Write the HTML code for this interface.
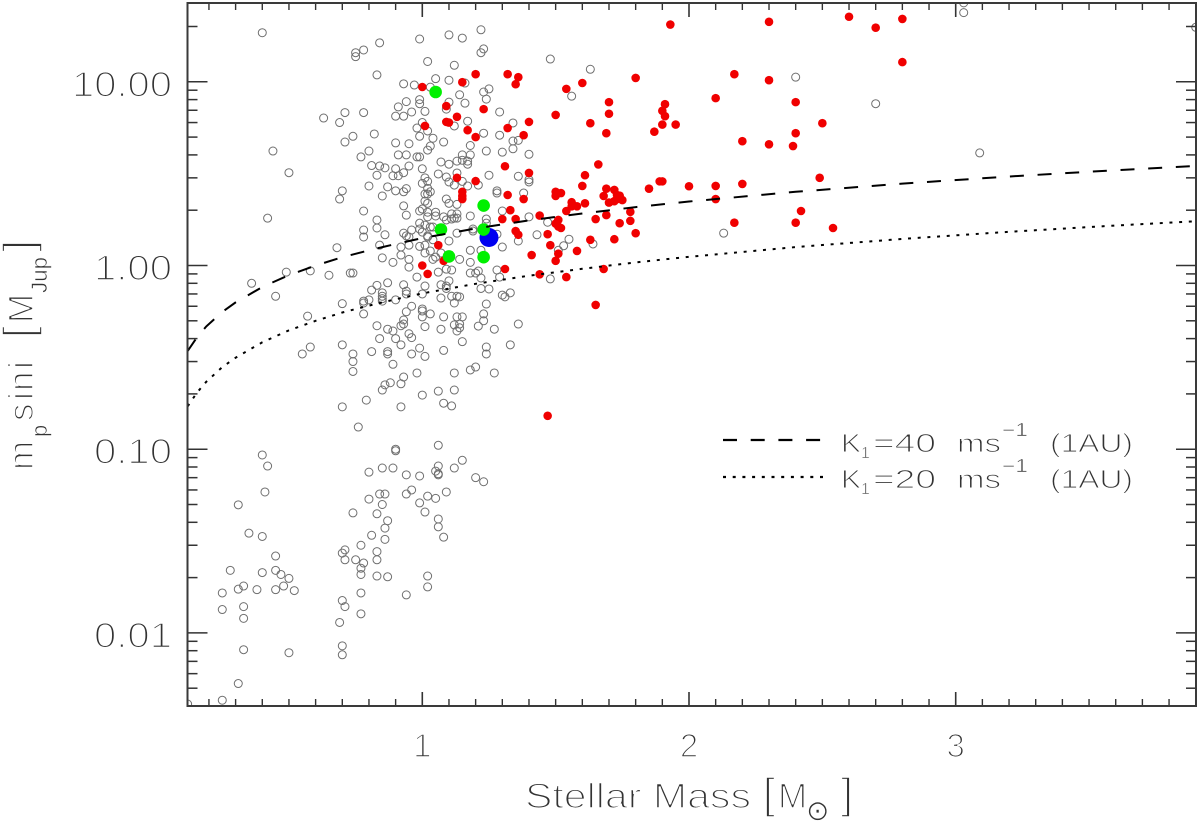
<!DOCTYPE html>
<html lang="en">
<head>
<meta charset="utf-8">
<title>Stellar mass vs minimum planet mass</title>
<style>
html,body{margin:0;padding:0;background:#fff}
svg{display:block}
text{font-family:"Liberation Sans","DejaVu Sans",sans-serif;fill:#333;stroke:#fff}
.big{font-size:35px;stroke-width:1.6px}
.mid{font-size:26px;stroke-width:1.05px}
.small{font-size:18px;stroke-width:.6px}
</style>
</head>
<body>
<svg id="chart" xmlns="http://www.w3.org/2000/svg" width="1200" height="821" viewBox="0 0 1200 821">
  <defs><clipPath id="plot-clip"><rect x="187.5" y="3" width="1008.5" height="703"/></clipPath></defs>
  <g id="marks" clip-path="url(#plot-clip)"></g>
  <g id="ticks"></g>
  <rect x="187.5" y="3" width="1008.5" height="703" fill="none" stroke="#3a3a3a" stroke-width="2"/>
  <g id="labels"></g>

  <g>
    <text class="big" x="525" y="808" textLength="226" lengthAdjust="spacingAndGlyphs">Stellar Mass</text>
    <text class="big" x="763" y="808" style="font-size:43px">[</text>
    <text class="big" x="778" y="808">M</text>
    <text class="small" x="806" y="820" style="font-size:28px;font-family:'DejaVu Sans',sans-serif">⊙</text>
    <text class="big" x="841" y="808" style="font-size:43px">]</text>
  </g>

  <g transform="translate(33,0) rotate(-90)">
    <text class="big" x="-470" y="0">m</text>
    <text class="small" x="-437" y="14" style="font-size:22px">p</text>
    <text class="big" x="-421" y="0">s</text>
    <text class="big" x="-400" y="0">i</text>
    <text class="big" x="-391" y="0">n</text>
    <text class="big" x="-369" y="0">i</text>
    <text class="big" x="-338" y="0" style="font-size:43px">[</text>
    <text class="big" x="-323" y="0">M</text>
    <text class="small" x="-293" y="14" style="font-size:22px" textLength="36" lengthAdjust="spacingAndGlyphs">Jup</text>
    <text class="big" x="-252" y="0" style="font-size:43px">]</text>
  </g>

  <g>
    <g>
      <line x1="723" y1="440" x2="821" y2="440" stroke="#000" stroke-width="2.2" stroke-dasharray="14 13.7"/>
      <text class="mid" x="841" y="452" textLength="20" lengthAdjust="spacingAndGlyphs">K</text>
      <text class="small" x="861" y="458" style="font-size:16px">1</text>
      <text class="mid" x="873" y="452" textLength="63" lengthAdjust="spacingAndGlyphs">=40</text>
      <text class="mid" x="957" y="452" textLength="44" lengthAdjust="spacingAndGlyphs">ms</text>
      <text class="small" x="1002" y="436" textLength="26" lengthAdjust="spacingAndGlyphs">−1</text>
      <text class="mid" x="1050" y="452" textLength="83" lengthAdjust="spacingAndGlyphs">(1AU)</text>
    </g>
    <g>
      <line x1="723" y1="477" x2="823" y2="477" stroke="#000" stroke-width="2.2" stroke-dasharray="3 6.7"/>
      <text class="mid" x="841" y="488" textLength="20" lengthAdjust="spacingAndGlyphs">K</text>
      <text class="small" x="861" y="494" style="font-size:16px">1</text>
      <text class="mid" x="873" y="488" textLength="63" lengthAdjust="spacingAndGlyphs">=20</text>
      <text class="mid" x="957" y="488" textLength="44" lengthAdjust="spacingAndGlyphs">ms</text>
      <text class="small" x="1002" y="472" textLength="26" lengthAdjust="spacingAndGlyphs">−1</text>
      <text class="mid" x="1050" y="488" textLength="83" lengthAdjust="spacingAndGlyphs">(1AU)</text>
    </g>
  </g>
</svg>
<script>
// ---- Axis labels ----
const xTickValues = [1, 2, 3];
const xTickLabels = ["1", "2", "3"];
const yTickValues = [0.01, 0.1, 1, 10];
const yTickLabels = ["0.01", "0.10", "1.00", "10.00"];

// ---- Detection-limit curves: stellar mass, and m sin i for each K1 ----
const curveMass = [0.12,0.155,0.19,0.25,0.3,0.4,0.5,0.6,0.7,0.8,0.9,1,1.2,1.4,1.6,1.8,2,2.4,2.8,3.2,3.6,3.9];
const curveK40 = [0.342,0.406,0.466,0.559,0.63,0.764,0.887,1.0,1.11,1.21,1.31,1.41,1.59,1.76,1.92,2.08,2.23,2.52,2.79,3.05,3.30,3.48];
const curveK20 = [0.171,0.203,0.233,0.28,0.315,0.382,0.444,0.5,0.555,0.605,0.655,0.705,0.795,0.88,0.96,1.04,1.115,1.26,1.395,1.525,1.65,1.74];

// ---- Points as [stellar mass, m sin i] ----
const blueStar = [[1.25,1.42]];
const greenStars = [[1.05,8.8],[1.23,2.12],[1.07,1.57],[1.23,1.57],[1.10,1.12],[1.23,1.11]];
const redStars = [
[1.00,9.37],[1.01,5.75],[1.09,7.38],[1.15,9.95],[1.20,11.0],[1.32,11.0],[1.36,10.6],[1.35,9.7],[1.54,9.15],[1.60,9.85],
[1.80,10.5],[1.70,7.75],[1.70,6.7],[1.50,6.6],[1.63,5.95],[1.69,5.25],[1.23,7.1],[1.13,6.45],[1.09,6.05],[1.10,6.0],
[1.17,5.45],[1.20,5.0],[1.32,5.6],[1.40,6.05],[1.38,5.12],[1.31,3.47],[1.40,3.19],[1.66,3.55],[1.61,3.1],[1.13,3.0],
[1.20,2.88],[1.60,2.71],[1.15,2.52],[1.15,2.39],[1.15,2.3],[1.32,2.42],[1.38,2.3],[1.50,2.52],[1.52,2.48],[1.50,2.39],
[1.69,2.62],[1.72,2.58],[1.68,2.39],[1.73,2.42],[1.75,2.27],[1.73,2.3],[1.70,2.2],[1.72,2.24],[1.85,2.62],[1.61,2.18],
[1.56,2.21],[1.58,2.1],[1.56,2.1],[1.54,1.98],[1.33,2.0],[1.30,1.79],[1.35,1.79],[1.44,1.87],[1.51,1.77],[1.50,1.69],
[1.51,1.63],[1.52,1.6],[1.65,1.79],[1.69,1.88],[1.78,1.96],[1.78,1.75],[1.74,1.7],[1.80,1.5],[1.72,1.39],[1.63,1.38],
[1.35,1.54],[1.36,1.47],[1.47,1.48],[1.48,1.29],[1.06,1.29],[1.58,1.2],[1.51,1.16],[1.50,1.06],[1.41,1.14],[1.08,1.06],
[1.00,1.0],[1.02,0.9],[1.31,0.957],[1.44,0.895],[1.54,0.865],[1.68,0.957],[1.65,0.61],[1.47,0.152],
[1.93,20.5],[2.30,21.2],[2.60,22.6],[2.70,19.7],[2.80,22.0],[2.80,12.8],[2.17,11.0],[2.30,10.2],[2.10,8.15],[2.40,7.75],
[1.91,7.55],[1.90,6.95],[1.91,6.5],[1.90,5.85],[1.95,5.85],[1.87,5.35],[2.50,5.95],[2.40,5.25],[2.20,4.75],[2.30,4.57],
[2.39,4.47],[2.49,3.0],[1.89,2.87],[1.90,2.87],[2.00,2.7],[2.10,2.71],[2.20,2.78],[2.10,2.3],[1.74,2.4],[2.17,1.71],
[2.40,1.71],[2.42,1.98],[2.54,1.6]
];
const greyStars = [
[0.40,18.5],[0.99,17.1],[0.84,16.3],[0.78,14.9],[0.75,14.4],[0.75,13.7],[1.02,12.9],[0.83,10.9],[0.93,9.75],[0.97,9.6],
[0.99,8.0],[0.99,7.6],[1.01,6.9],[0.94,7.8],[0.91,7.3],[0.96,6.85],[0.90,6.5],[0.93,6.5],[0.78,6.8],[0.71,6.8],
[0.63,6.35],[0.69,6.0],[1.00,6.0],[0.98,5.6],[0.99,5.05],[0.82,5.2],[0.74,5.05],[0.71,4.7],[0.90,4.65],[0.95,4.6],
[1.02,4.25],[0.44,4.2],[0.80,4.2],[0.77,3.9],[0.91,4.0],[0.94,4.0],[0.98,3.9],[0.99,3.9],[0.81,3.5],[0.84,3.48],
[0.86,3.4],[0.90,3.36],[0.95,3.48],[1.00,3.36],[0.50,3.2],[0.83,3.1],[0.89,3.08],[0.91,3.08],[0.93,3.2],[1.01,3.0],
[1.00,2.8],[1.02,2.63],[0.80,2.71],[0.87,2.68],[0.90,2.55],[0.93,2.52],[0.94,2.62],[0.70,2.55],[0.69,2.3],[0.85,2.39],
[1.01,2.45],[1.01,2.24],[0.93,2.11],[0.78,1.98],[0.99,1.98],[0.94,1.88],[1.00,2.03],[1.02,1.84],[0.42,1.81],[0.83,1.77],
[0.83,1.6],[0.78,1.56],[0.78,1.43],[0.86,1.47],[0.99,1.7],[0.99,1.58],[0.96,1.56],[0.93,1.5],[0.95,1.43],[0.68,1.25],
[0.84,1.29],[0.92,1.26],[0.95,1.29],[0.99,1.27],[1.02,1.43],[1.01,1.29],[0.92,1.14],[0.85,1.1],[0.95,1.08],[1.01,1.17],
[1.10,18.0],[1.15,17.3],[1.22,19.2],[1.23,15.1],[1.22,14.4],[1.12,12.3],[1.48,13.3],[1.63,11.7],[1.05,10.4],[1.10,10.2],
[1.03,9.35],[1.16,9.85],[1.25,9.15],[1.23,8.8],[1.14,8.5],[1.24,8.05],[1.10,7.75],[1.16,7.65],[1.56,8.35],[1.09,7.1],
[1.29,6.85],[1.17,6.1],[1.34,5.97],[1.12,5.75],[1.02,5.4],[1.23,5.25],[1.29,5.12],[1.04,4.93],[1.08,4.7],[1.34,4.76],
[1.36,4.8],[1.18,4.5],[1.03,4.47],[1.34,4.32],[1.24,4.2],[1.30,4.14],[1.40,4.03],[1.15,4.0],[1.18,4.0],[1.13,3.7],
[1.15,3.74],[1.17,3.7],[1.17,3.56],[1.07,3.66],[1.10,3.56],[1.06,3.15],[1.09,3.03],[1.13,3.19],[1.25,3.1],[1.36,3.06],
[1.40,2.93],[1.10,2.85],[1.12,2.74],[1.15,2.87],[1.17,2.71],[1.21,2.74],[1.40,2.85],[1.28,2.55],[1.28,2.48],[1.38,2.48],
[1.02,2.87],[1.03,2.52],[1.02,2.45],[1.02,2.18],[1.09,2.3],[1.10,2.18],[1.13,2.15],[1.02,1.95],[1.05,1.95],[1.05,1.86],
[1.08,1.84],[1.11,1.91],[1.13,1.91],[1.12,1.81],[1.13,1.81],[1.18,1.86],[1.09,1.77],[1.11,1.79],[1.03,1.62],[1.04,1.62],
[1.01,1.66],[1.24,1.79],[1.24,1.7],[1.30,1.98],[1.40,1.84],[1.47,1.72],[1.19,1.58],[1.19,1.54],[1.13,1.5],[0.94,1.45],
[1.00,1.52],[1.02,1.45],[1.04,1.38],[1.10,1.36],[1.28,1.48],[1.30,1.26],[1.36,1.36],[1.43,1.47],[1.55,1.39],[1.53,1.28],
[1.64,1.31],[1.51,1.21],[1.18,1.21],[1.22,1.21],[1.03,1.2],[1.07,1.17],[1.04,1.08],[1.05,1.11],[0.95,0.98],[1.14,1.08],
[1.18,1.04],[1.28,0.945],[1.09,0.955],[1.11,0.945],[1.06,0.92],[0.98,0.865],[1.18,0.91],[1.20,0.91],[1.21,0.933],[1.22,0.855],
[1.29,0.865],[1.10,0.825],[1.48,0.845],[0.93,0.785],[1.01,0.773],[1.07,0.785],[1.09,0.773],[1.09,0.75],[1.22,0.75],[1.25,0.745],
[0.94,0.725],[0.94,0.7],[1.00,0.7],[1.07,0.665],[1.11,0.68],[1.13,0.68],[1.14,0.675],[1.12,0.625],[1.30,0.69],[1.31,0.675],
[1.33,0.71],[1.24,0.617],[0.96,0.6],[1.00,0.58],[1.00,0.565],[0.94,0.56],[1.03,0.545],[1.00,0.525],[1.08,0.525],[1.13,0.525],
[1.15,0.525],[1.23,0.545],[1.23,0.5],[0.93,0.505],[0.93,0.48],[1.01,0.465],[1.12,0.475],[1.14,0.48],[1.14,0.458],[1.13,0.44],
[1.07,0.45],[1.21,0.468],[1.27,0.45],[1.36,0.48],[0.95,0.425],[0.96,0.405],[1.15,0.385],[1.33,0.37],[1.24,0.36],[0.92,0.37],
[0.99,0.355],[1.08,0.345],
[0.58,0.935],[0.65,0.885],[0.73,0.91],[0.74,0.91],[0.89,1.04],[0.87,0.805],[0.83,0.78],[0.81,0.735],[0.85,0.71],[0.85,0.68],
[0.85,0.66],[0.85,0.64],[0.78,0.64],[0.80,0.65],[0.78,0.625],[0.70,0.62],[0.90,0.65],[0.78,0.545],[0.57,0.53],[0.83,0.47],
[0.92,0.47],[0.87,0.45],[0.89,0.44],[0.84,0.4],[0.90,0.4],[0.58,0.36],[0.70,0.37],[0.81,0.34],[0.87,0.34],[0.87,0.33],
[0.74,0.33],[0.74,0.3],[0.74,0.265],[0.55,0.33],[0.96,0.33],[1.01,0.32],[0.89,0.29],[0.98,0.26],[1.24,0.33],[1.12,0.26],
[1.18,0.27],[1.20,0.28],[1.27,0.26],[0.93,0.247],[0.88,0.23],[0.86,0.224],[0.85,0.21],[0.92,0.227],[1.00,0.197],[1.06,0.207],
[1.12,0.21],[0.79,0.185],[0.70,0.17],[0.92,0.17],[1.08,0.178],[1.11,0.172],[0.76,0.132],[0.90,0.1],
[0.36,0.80],[0.45,0.68],[0.49,0.92],
[1.06,0.105],[0.90,0.098],[0.40,0.093],[0.42,0.081],[1.15,0.087],[1.06,0.081],[1.12,0.079],[0.85,0.079],[0.89,0.079],[0.80,0.075],
[1.05,0.076],[1.06,0.0735],[1.06,0.0725],[0.94,0.0725],[0.99,0.0715],[1.20,0.07],[1.23,0.0665],[0.41,0.0585],[0.96,0.06],[0.94,0.057],
[0.84,0.057],[0.86,0.057],[1.09,0.0585],[1.02,0.0555],[1.05,0.054],[0.80,0.0535],[0.85,0.05],[0.99,0.051],[0.31,0.0498],[1.01,0.0455],
[0.74,0.045],[0.83,0.0445],[1.06,0.0417],[0.87,0.0408],[1.06,0.0378],[0.86,0.0372],[0.35,0.0349],[0.40,0.0335],[0.81,0.034],[1.08,0.0332],
[0.86,0.0323],[0.77,0.03],[0.71,0.0283],[0.70,0.0272],[0.71,0.025],[0.83,0.0277],[0.83,0.025],[0.45,0.0262],[0.75,0.025],[0.78,0.024],
[0.77,0.0225],[0.77,0.0208],[0.28,0.0219],[0.40,0.0213],[0.45,0.0219],[0.47,0.0208],[0.50,0.0198],[0.83,0.0204],[0.87,0.0202],[1.02,0.0204],
[1.02,0.0178],[0.33,0.018],[0.31,0.0173],[0.38,0.0172],[0.45,0.0172],[0.48,0.018],[0.52,0.017],[0.25,0.0165],[0.77,0.0165],[0.94,0.0161],
[0.70,0.015],[0.71,0.0139],[0.33,0.0139],[0.25,0.0134],[0.33,0.012],[0.77,0.0127],[0.69,0.0114],[0.70,0.0085],[0.70,0.0076],[0.33,0.0081],
[0.50,0.0078],[0.31,0.0053],[0.25,0.0043],[0.12,0.0041],
[2.40,10.6],[2.70,7.6],[2.13,1.5],[3.03,23.8],[3.03,26.9],[3.09,4.1],[3.90,19.8]
];

// ---- Axis functions ----
const xAxis = m => 422.3 + (m - 1) * 266.7;
const yAxis = v => 265.5 - 183.7 * Math.log10(v);
const NS = "http://www.w3.org/2000/svg";
const marks = document.getElementById("marks");
const ticks = document.getElementById("ticks");
const labels = document.getElementById("labels");

function make(tag, parent, props) {
  const el = document.createElementNS(NS, tag);
  for (const k in props) el.setAttribute(k, props[k]);
  parent.appendChild(el);
  return el;
}

// Ticks
for (let i = 2; i <= 38; i++) {
  const major = i % 10 === 0;
  const x = xAxis(i / 10);
  const len = major ? 14 : 7;
  const w = major ? 1.6 : 1.4;
  const bottom = make("line", ticks, {x1:x, x2:x, y1:706, y2:706 - len, stroke:"#333", "stroke-width":w});
  
  
  const top = make("line", ticks, {x1:x, x2:x, y1:3, y2:3 + len, stroke:"#333", "stroke-width":w});
  
  
}
for (let d = -3; d <= 1; d++) {
  for (let k = 1; k <= 9; k++) {
    const v = k * Math.pow(10, d);
    if (v < 0.0041 || v > 26.5) continue;
    const y = yAxis(v);
    const len = k === 1 ? 20 : 10;
    const left = make("line", ticks, {x1:187.5, x2:187.5 + len, y1:y, y2:y, stroke:"#333", "stroke-width":1.5});
    
    
    const right = make("line", ticks, {x1:1196, x2:1196 - len, y1:y, y2:y, stroke:"#333", "stroke-width":1.5});
    
    
  }
}

// Tick labels
xTickValues.forEach((v, i) => {
  const t = make("text", labels, {class:"big", x:xAxis(v), y:757, "text-anchor":"middle", style:"font-size:33px"});
  t.textContent = xTickLabels[i];
  
  
});
yTickValues.forEach((v, i) => {
  const s = yTickLabels[i];
  const w = s.length === 5 ? 100 : 78;
  const t = make("text", labels, {class:"big", x:172 - w, y:yAxis(v) + 14.5, textLength:w, lengthAdjust:"spacingAndGlyphs"});
  t.textContent = s;
  
  
});

// Points
greyStars.forEach(p => {
  const c = make("circle", marks, {cx:xAxis(p[0]), cy:yAxis(p[1]), r:4, fill:"none", stroke:"#6f6f6f", "stroke-width":1});
  
  
});
redStars.forEach(p => {
  const c = make("circle", marks, {cx:xAxis(p[0]), cy:yAxis(p[1]), r:4.3, fill:"#f00000"});
  
  
});
blueStar.forEach(p => {
  const c = make("circle", marks, {cx:xAxis(p[0]), cy:yAxis(p[1]), r:9.5, fill:"#0000f0"});
  
  
});
greenStars.forEach(p => {
  const c = make("circle", marks, {cx:xAxis(p[0]), cy:yAxis(p[1]), r:6.3, fill:"#00f000"});
  
  
});

// Curves
function curvePath(vals) {
  return curveMass.map((m, i) => (i ? "L" : "M") + xAxis(m).toFixed(1) + " " + yAxis(vals[i]).toFixed(1)).join(" ");
}
const k40 = make("path", marks, {d:curvePath(curveK40), fill:"none", stroke:"#000", "stroke-width":2, "stroke-dasharray":"14 13.7"});


const k20 = make("path", marks, {d:curvePath(curveK20), fill:"none", stroke:"#000", "stroke-width":2, "stroke-dasharray":"3 6.7"});


</script>
</body>
</html>
